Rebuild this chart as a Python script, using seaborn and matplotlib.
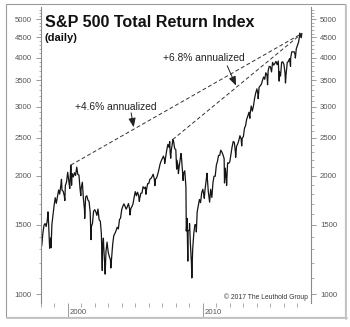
import numpy as np
import pandas as pd
import matplotlib
matplotlib.use("Agg")
import matplotlib.pyplot as plt
import matplotlib.transforms as mtransforms
from matplotlib.ticker import FixedLocator, NullFormatter, FuncFormatter
from matplotlib.patches import Rectangle
import seaborn as sns

# ---------------- data ----------------
dates = [
    "1998-01-02", "1998-01-30", "1998-02-27", "1998-03-31", "1998-04-30", "1998-05-29", "1998-06-30",
    "1998-07-17", "1998-07-31", "1998-08-31", "1998-09-30", "1998-10-08", "1998-10-30", "1998-11-30",
    "1998-12-31", "1999-01-29", "1999-02-26", "1999-03-31", "1999-04-30", "1999-05-28", "1999-06-30",
    "1999-07-16", "1999-07-30", "1999-08-31", "1999-09-30", "1999-10-15", "1999-10-29", "1999-11-30",
    "1999-12-31", "2000-01-31", "2000-02-25", "2000-02-29", "2000-03-24", "2000-03-31", "2000-04-14",
    "2000-04-28", "2000-05-31", "2000-06-30", "2000-07-31", "2000-08-31", "2000-09-01", "2000-09-29",
    "2000-10-31", "2000-11-30", "2000-12-20", "2000-12-29", "2001-01-31", "2001-02-28", "2001-03-30",
    "2001-04-04", "2001-04-30", "2001-05-31", "2001-06-29", "2001-07-31", "2001-08-31", "2001-09-21",
    "2001-09-28", "2001-10-31", "2001-11-30", "2001-12-31", "2002-01-31", "2002-02-28", "2002-03-28",
    "2002-04-30", "2002-05-31", "2002-06-28", "2002-07-23", "2002-07-31", "2002-08-22", "2002-08-30",
    "2002-09-30", "2002-10-09", "2002-10-31", "2002-11-29", "2002-12-31", "2003-01-31", "2003-02-28",
    "2003-03-11", "2003-03-31", "2003-04-30", "2003-05-30", "2003-06-30", "2003-07-31", "2003-08-29",
    "2003-09-30", "2003-10-31", "2003-11-28", "2003-12-31", "2004-01-30", "2004-02-27", "2004-03-31",
    "2004-04-30", "2004-05-28", "2004-06-30", "2004-07-30", "2004-08-12", "2004-08-31", "2004-09-30",
    "2004-10-29", "2004-11-30", "2004-12-31", "2005-01-31", "2005-02-28", "2005-03-31", "2005-04-20",
    "2005-04-29", "2005-05-31", "2005-06-30", "2005-07-29", "2005-08-31", "2005-09-30", "2005-10-13",
    "2005-10-31", "2005-11-30", "2005-12-30", "2006-01-31", "2006-02-28", "2006-03-31", "2006-04-28",
    "2006-05-31", "2006-06-13", "2006-06-30", "2006-07-31", "2006-08-31", "2006-09-29", "2006-10-31",
    "2006-11-30", "2006-12-29", "2007-01-31", "2007-02-28", "2007-03-05", "2007-03-30", "2007-04-30",
    "2007-05-31", "2007-06-29", "2007-07-19", "2007-07-31", "2007-08-15", "2007-08-31", "2007-09-28",
    "2007-10-09", "2007-10-31", "2007-11-30", "2007-12-31", "2008-01-22", "2008-01-31", "2008-02-29",
    "2008-03-10", "2008-03-31", "2008-04-30", "2008-05-19", "2008-05-30", "2008-06-30", "2008-07-15",
    "2008-07-31", "2008-08-29", "2008-09-30", "2008-10-10", "2008-10-31", "2008-11-20", "2008-11-28",
    "2008-12-31", "2009-01-06", "2009-01-30", "2009-02-27", "2009-03-09", "2009-03-31", "2009-04-30",
    "2009-05-29", "2009-06-30", "2009-07-08", "2009-07-31", "2009-08-31", "2009-09-30", "2009-10-30",
    "2009-11-30", "2009-12-31", "2010-01-29", "2010-02-08", "2010-02-26", "2010-03-31", "2010-04-23",
    "2010-04-30", "2010-05-28", "2010-06-30", "2010-07-02", "2010-07-30", "2010-08-31", "2010-09-30",
    "2010-10-29", "2010-11-30", "2010-12-31", "2011-01-31", "2011-02-28", "2011-03-31", "2011-04-29",
    "2011-05-31", "2011-06-30", "2011-07-29", "2011-08-08", "2011-08-31", "2011-09-30", "2011-10-03",
    "2011-10-31", "2011-11-30", "2011-12-30", "2012-01-31", "2012-02-29", "2012-03-30", "2012-04-30",
    "2012-05-31", "2012-06-04", "2012-06-29", "2012-07-31", "2012-08-31", "2012-09-28", "2012-10-31",
    "2012-11-15", "2012-11-30", "2012-12-31", "2013-01-31", "2013-02-28", "2013-03-28", "2013-04-30",
    "2013-05-31", "2013-06-24", "2013-06-28", "2013-07-31", "2013-08-30", "2013-09-30", "2013-10-31",
    "2013-11-29", "2013-12-31", "2014-01-31", "2014-02-03", "2014-02-28", "2014-03-31", "2014-04-30",
    "2014-05-30", "2014-06-30", "2014-07-31", "2014-08-29", "2014-09-30", "2014-10-15", "2014-10-31",
    "2014-11-28", "2014-12-31", "2015-01-30", "2015-02-27", "2015-03-31", "2015-04-30", "2015-05-29",
    "2015-06-30", "2015-07-31", "2015-08-25", "2015-08-31", "2015-09-30", "2015-10-30", "2015-11-30",
    "2015-12-31", "2016-01-29", "2016-02-11", "2016-02-29", "2016-03-31", "2016-04-29", "2016-05-31",
    "2016-06-27", "2016-06-30", "2016-07-29", "2016-08-31", "2016-09-30", "2016-10-31", "2016-11-04",
    "2016-11-30", "2016-12-30", "2017-01-31", "2017-02-28", "2017-03-01", "2017-03-31", "2017-04-13",
    "2017-04-28",
]
values = [
    1313, 1329, 1424, 1497, 1512, 1485, 1546,
    1619, 1529, 1307, 1390, 1312, 1503, 1595,
    1686, 1759, 1702, 1771, 1840, 1797, 1896,
    1960, 1838, 1827, 1778, 1730, 1890, 1929,
    2042, 1940, 1857, 1903, 2130, 2091, 1893,
    2027, 1987, 2036, 2005, 2098, 2105, 2018,
    2008, 1850, 1780, 1859, 1926, 1751, 1639,
    1557, 1767, 1780, 1737, 1720, 1613, 1376,
    1482, 1512, 1625, 1640, 1617, 1586, 1646,
    1545, 1534, 1426, 1148, 1315, 1388, 1323,
    1178, 1124, 1282, 1356, 1277, 1244, 1224,
    1165, 1236, 1339, 1409, 1427, 1451, 1480,
    1465, 1548, 1561, 1642, 1673, 1697, 1671,
    1645, 1668, 1700, 1645, 1590, 1650, 1669,
    1694, 1763, 1823, 1779, 1817, 1785, 1721,
    1751, 1806, 1808, 1876, 1857, 1873, 1795,
    1843, 1910, 1911, 1962, 1968, 1992, 2019,
    1960, 1888, 1962, 1976, 2021, 2073, 2141,
    2181, 2211, 2245, 2200, 2149, 2225, 2324,
    2405, 2364, 2444, 2292, 2217, 2326, 2413,
    2474, 2451, 2347, 2330, 2080, 2191, 2118,
    2027, 2109, 2213, 2280, 2239, 2049, 1946,
    2032, 2060, 1874, 1447, 1559, 1213, 1446,
    1459, 1512, 1337, 1193, 1099, 1298, 1423,
    1501, 1503, 1439, 1619, 1677, 1741, 1709,
    1812, 1848, 1783, 1753, 1836, 1948, 2030,
    1981, 1821, 1727, 1714, 1848, 1762, 1920,
    1995, 1995, 2129, 2180, 2253, 2255, 2324,
    2296, 2259, 2213, 1918, 2092, 1944, 1890,
    2158, 2151, 2174, 2271, 2369, 2446, 2433,
    2283, 2229, 2378, 2412, 2466, 2530, 2484,
    2383, 2495, 2517, 2648, 2683, 2783, 2840,
    2903, 2803, 2863, 3011, 2923, 3016, 3156,
    3249, 3330, 3218, 3144, 3361, 3392, 3419,
    3498, 3569, 3522, 3660, 3609, 3411, 3701,
    3799, 3789, 3677, 3888, 3826, 3865, 3911,
    3837, 3920, 3484, 3680, 3588, 3892, 3902,
    3841, 3651, 3446, 3644, 3891, 3907, 3976,
    3800, 3986, 4135, 4138, 4139, 4065, 3989,
    4213, 4297, 4380, 4553, 4615, 4558, 4495,
    4606,
]
trend_start_dates = ["2000-03-24", "2007-10-09"]
trend_labels = ["+4.6% annualized", "+6.8% annualized"]
y_major = [1000, 1500, 2000, 2500, 3000, 3500, 4000, 4500, 5000]
year_labels = [2000, 2010]

title = "S&P 500 Total Return Index"
subtitle = "(daily)"
credit = "\u00a9 2017 The Leuthold Group"

# ---------------- styling ----------------
sns.set_theme(style="white")
plt.rcParams["font.family"] = ["Liberation Sans", "DejaVu Sans"]
W, H = 350, 327
AX_COL = "#8a8a8a"
LAB_COL = "#555555"

df = pd.DataFrame({"date": pd.to_datetime(dates), "value": values})
df["year"] = df["date"].dt.year + (df["date"].dt.dayofyear - 1) / (365 + df["date"].dt.is_leap_year.astype(int))

fig = plt.figure(figsize=(W / 100, H / 100), dpi=100)
ax = fig.add_axes([40.7 / W, 24 / H, (311 - 40.7) / W, (303 - 7) / H])
ax.set_facecolor("white")

sns.lineplot(data=df, x="year", y="value", ax=ax, color="#151515", lw=0.9)

ax.set_yscale("log")
ax.set_ylim(949, 5380)
ax.set_xlim(1998, 2018)
ax.set_xlabel("")
ax.set_ylabel("")

# trend lines from peaks to last point
end = df.iloc[-1]
trend = []
for s in trend_start_dates:
    p = df[df["date"] == pd.Timestamp(s)].iloc[0]
    ax.plot([p["year"], end["year"]], [p["value"], end["value"]],
            ls=(0, (4, 2.5)), color="#333333", lw=0.7)
    trend.append((p["year"], p["value"], end["year"], end["value"]))


def on_line(t, x):
    x0, y0, x1, y1 = t
    f = (x - x0) / (x1 - x0)
    return np.exp(np.log(y0) + f * (np.log(y1) - np.log(y0)))


# annotations
ann_text_pos = [(2003.58, 2996), (2010.1, 3995)]
ann_arrow_start = [(2004.69, 2893), (2011.8, 3812)]
ann_arrow_x = [2004.88, 2012.45]
for i in range(2):
    ax.text(*ann_text_pos[i], trend_labels[i], ha="center", va="center",
            fontsize=7.4, color="#222222")
    tx = ann_arrow_x[i]
    ax.annotate("", xy=(tx, on_line(trend[i], tx) * 1.012), xytext=ann_arrow_start[i],
                arrowprops=dict(arrowstyle="-|>,head_length=0.45,head_width=0.18",
                                color="#222222", lw=0.7, shrinkA=0, shrinkB=0))

# spines
for side in ["top", "bottom"]:
    ax.spines[side].set_visible(False)
for side in ["left", "right"]:
    ax.spines[side].set_visible(True)
    ax.spines[side].set_color(AX_COL)
    ax.spines[side].set_linewidth(0.8)

# y ticks
ax.yaxis.set_major_locator(FixedLocator(y_major))
ax.yaxis.set_minor_locator(FixedLocator([v for v in range(1000, 5400, 100) if v not in y_major]))
ax.yaxis.set_major_formatter(FuncFormatter(lambda v, p: f"{int(v)}"))
ax.yaxis.set_minor_formatter(NullFormatter())
ax.tick_params(axis="y", which="major", direction="out", length=3.4, width=0.6, color=AX_COL,
               left=True, right=True, labelleft=True, labelright=True, labelsize=5.6,
               labelcolor=LAB_COL, pad=3)
ax.tick_params(axis="y", which="minor", direction="out", length=1.8, width=0.5, color=AX_COL,
               left=True, right=True)

# x ticks
ax.xaxis.set_major_locator(FixedLocator(year_labels))
ax.xaxis.set_minor_locator(FixedLocator([y for y in range(1998, 2018) if y not in year_labels]))
ax.xaxis.set_major_formatter(NullFormatter())
ax.xaxis.set_minor_formatter(NullFormatter())
ax.tick_params(axis="x", which="major", direction="out", length=10.2, width=0.6, color=AX_COL,
               bottom=True)
ax.tick_params(axis="x", which="minor", direction="out", length=2.6, width=0.5, color=AX_COL,
               bottom=True)
lab_tr = mtransforms.offset_copy(ax.get_xaxis_transform(), fig=fig, x=1.5, y=-9, units="dots")
for yr in year_labels:
    ax.text(yr, 0, str(yr), transform=lab_tr, ha="left", va="center", fontsize=5.6, color=LAB_COL)

# titles
fig.text(45 / W, 1 - 27 / H, title, fontsize=11.6, fontweight="bold", color="#111111",
         ha="left", va="baseline")
fig.text(45 / W, 1 - 41 / H, subtitle, fontsize=8.0, fontweight="bold", color="#111111",
         ha="left", va="baseline")
fig.text(308 / W, 1 - 299 / H, credit, fontsize=4.9, color="#333333", ha="right", va="baseline")

# outer frame with light shadow
fig.patches.append(Rectangle((6 / W, 1 - 317 / H), 339 / W, 313 / H, transform=fig.transFigure,
                             fill=False, edgecolor="#9a9a9a", lw=0.8))
fig.lines.append(plt.Line2D([7 / W, 346.5 / W], [1 - 318.2 / H, 1 - 318.2 / H],
                            transform=fig.transFigure, color="#c4c4c4", lw=1.4))
fig.lines.append(plt.Line2D([346.2 / W, 346.2 / W], [1 - 318.5 / H, 1 - 5 / H],
                            transform=fig.transFigure, color="#c4c4c4", lw=1.4))

fig.savefig("out.png", dpi=100, facecolor="white")
